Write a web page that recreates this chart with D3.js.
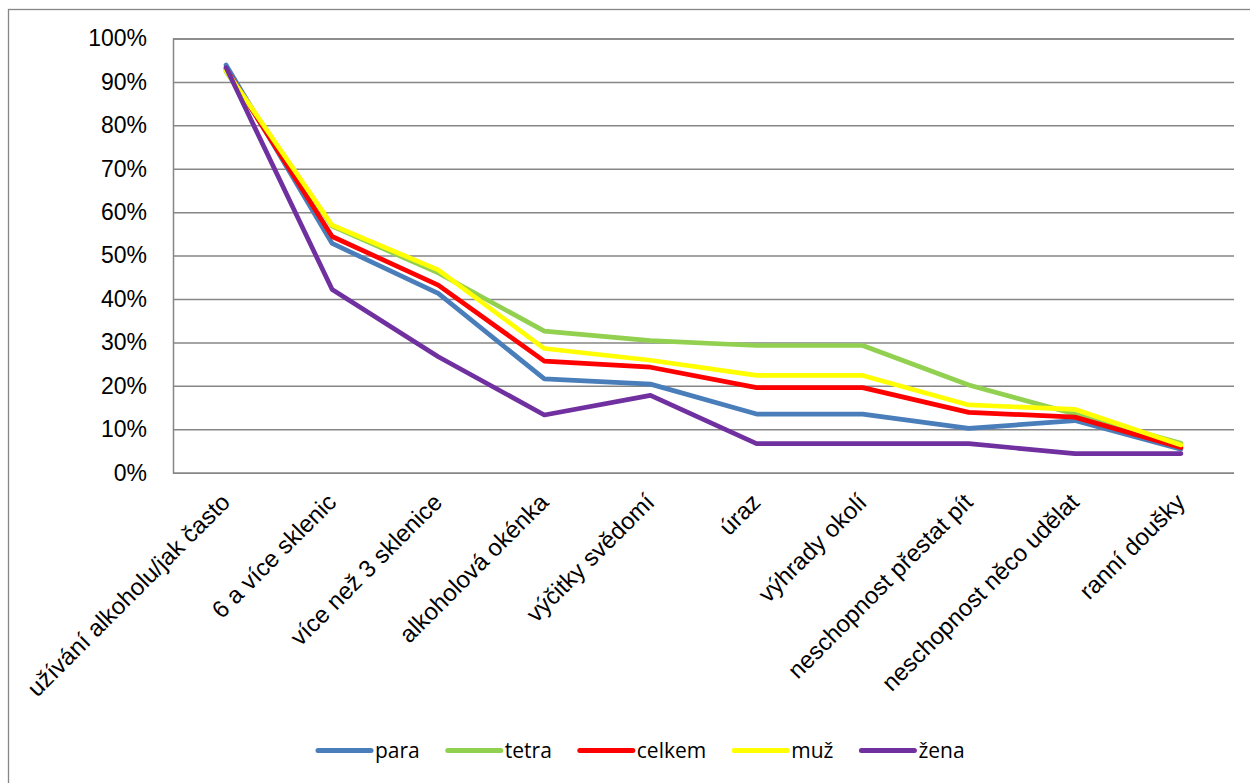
<!DOCTYPE html>
<html>
<head>
<meta charset="utf-8">
<script src="https://cdn.jsdelivr.net/npm/d3@7/dist/d3.min.js"></script>
<style>
  html, body { margin: 0; padding: 0; background: #fff; }
  svg { display: block; font-family: 'Open Sans', 'Liberation Sans', sans-serif; }
</style>
</head>
<body>
<svg id="chart"></svg>
<script>
const categories = [
  'užívání alkoholu/jak často',
  '6 a více sklenic',
  'více než 3 sklenice',
  'alkoholová okénka',
  'výčitky svědomí',
  'úraz',
  'výhrady okolí',
  'neschopnost přestat pít',
  'neschopnost něco udělat',
  'ranní doušky'
];

const seriesNames = ['para', 'tetra', 'celkem', 'muž', 'žena'];

// values in %
const para   = [93.9, 52.8, 41.3, 21.6, 20.4, 13.5, 13.5, 10.2, 12.0, 5.4];
const tetra  = [92.4, 56.8, 46.0, 32.6, 30.4, 29.3, 29.3, 20.2, 13.5, 6.8];
const celkem = [93.0, 54.4, 43.2, 25.7, 24.3, 19.6, 19.6, 13.9, 12.8, 5.8];
const muz    = [92.6, 57.0, 46.7, 28.6, 25.9, 22.4, 22.4, 15.6, 14.6, 6.4];
const zena   = [93.3, 42.2, 26.7, 13.3, 17.8, 6.7, 6.7, 6.7, 4.4, 4.4];

const yTicks = [0, 10, 20, 30, 40, 50, 60, 70, 80, 90, 100];

const colors = ['#4a7ebb', '#92d050', '#ff0000', '#ffff00', '#7030a0'];

const width = 1250;
const height = 783;

const svg = d3.select('#chart')
  .attr('width', width)
  .attr('height', height);

// chart area border
svg.append('rect')
  .attr('x', 8.5)
  .attr('y', 9.5)
  .attr('width', 1300)
  .attr('height', 800)
  .attr('fill', 'none')
  .attr('stroke', '#868686')
  .attr('stroke-width', 1.3);

const margin = {left: 173, top: 38.5, right: 16, bottom: 310.3};
const innerW = width - margin.left - margin.right;
const innerH = height - margin.top - margin.bottom;

const g = svg.append('g')
  .attr('transform', `translate(${margin.left}, ${margin.top})`);

const xScale = d3.scalePoint()
  .domain(categories)
  .range([0, innerW])
  .padding(0.5);

const yScale = d3.scaleLinear()
  .domain([0, 100])
  .range([innerH, 0]);

// y axis + gridlines
const yAxis = d3.axisLeft(yScale)
  .tickValues(yTicks)
  .tickFormat(d => d + '%')
  .tickSize(-innerW)
  .tickPadding(26);

const yG = g.append('g').call(yAxis);
yG.select('.domain')
  .attr('stroke', '#868686')
  .attr('stroke-width', 1.5);
yG.selectAll('.tick line')
  .attr('stroke', '#868686')
  .attr('stroke-width', 1.5);
yG.selectAll('.tick text')
  .attr('fill', '#000')
  .style('font-size', '23px');

// x axis
const xAxis = d3.axisBottom(xScale).tickSize(0).tickPadding(0);
const xG = g.append('g')
  .attr('transform', `translate(0, ${innerH})`)
  .call(xAxis);
xG.select('.domain').remove();
xG.selectAll('.tick text')
  .attr('fill', '#000')
  .style('font-size', '24px')
  .attr('text-anchor', 'end')
  .attr('y', 0)
  .attr('dy', 0)
  .attr('transform', 'translate(5, 31) rotate(-45)');

// lines
const seriesData = [para, tetra, celkem, muz, zena];

const line = d3.line()
  .x((d, i) => xScale(categories[i]))
  .y(d => yScale(d));

g.append('g')
  .selectAll('path')
  .data(seriesData)
  .join('path')
    .attr('d', line)
    .attr('fill', 'none')
    .attr('stroke', (d, i) => colors[i])
    .attr('stroke-width', 4.7)
    .attr('stroke-linejoin', 'round')
    .attr('stroke-linecap', 'round');

// legend
const legendG = svg.append('g')
  .attr('transform', 'translate(315, 750.5)');

let lx = 0;
seriesNames.forEach((name, i) => {
  const item = legendG.append('g').attr('transform', `translate(${lx}, 0)`);
  item.append('line')
    .attr('x1', 3).attr('x2', 56)
    .attr('y1', 0).attr('y2', 0)
    .attr('stroke', colors[i])
    .attr('stroke-width', 5)
    .attr('stroke-linecap', 'round');
  const t = item.append('text')
    .attr('x', 60)
    .attr('y', 0)
    .attr('dy', '0.35em')
    .style('font-size', '21px')
    .attr('fill', '#000')
    .text(name);
  lx += 60 + t.node().getComputedTextLength() + 25;
});
</script>
</body>
</html>
